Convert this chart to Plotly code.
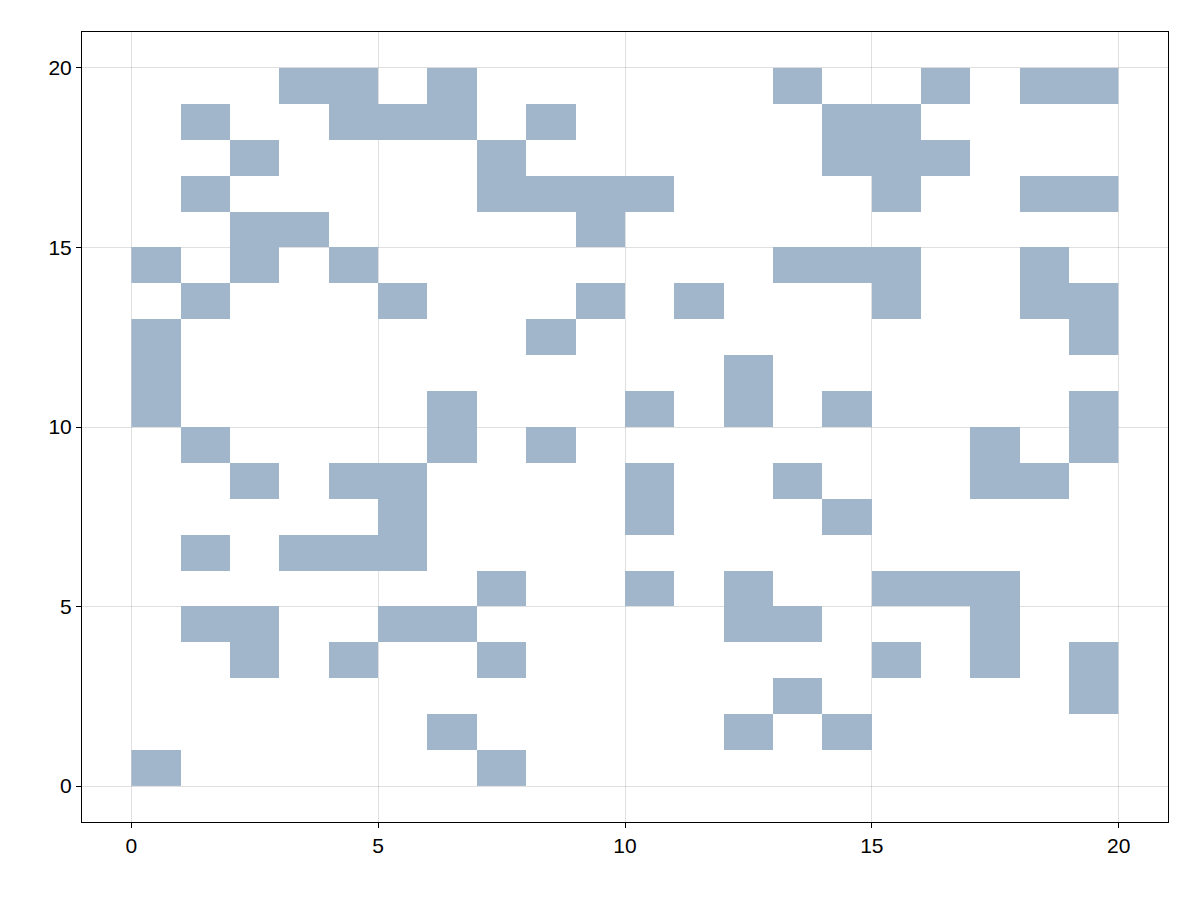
import numpy as np
import plotly.graph_objects as go

# filled cells: row index j (cell spans y in [j, j+1]) -> list of column indices i
ROWS = {
    19: [3, 4, 6, 13, 16, 18, 19],
    18: [1, 4, 5, 6, 8, 14, 15],
    17: [2, 7, 14, 15, 16],
    16: [1, 7, 8, 9, 10, 15, 18, 19],
    15: [2, 3, 9],
    14: [0, 2, 4, 13, 14, 15, 18],
    13: [1, 5, 9, 11, 15, 18, 19],
    12: [0, 8, 19],
    11: [0, 12],
    10: [0, 6, 10, 12, 14, 19],
    9: [1, 6, 8, 17, 19],
    8: [2, 4, 5, 10, 13, 17, 18],
    7: [5, 10, 14],
    6: [1, 3, 4, 5],
    5: [7, 10, 12, 15, 16, 17],
    4: [1, 2, 5, 6, 12, 13, 17],
    3: [2, 4, 7, 15, 17, 19],
    2: [13, 19],
    1: [6, 12, 14],
    0: [0, 7],
}
N = 20
TICKS = [0, 5, 10, 15, 20]

z = np.full((N, N), np.nan)
for j, cols in ROWS.items():
    for i in cols:
        z[j, i] = 1.0

fig = go.Figure(
    go.Heatmap(
        x=np.arange(N) + 0.5,
        y=np.arange(N) + 0.5,
        z=z,
        colorscale=[[0, "#a1b5cb"], [1, "#a1b5cb"]],
        showscale=False,
        hoverongaps=False,
    )
)

axis = dict(
    range=[-1, 21],
    tickvals=TICKS,
    showgrid=True,
    gridcolor="rgba(0,0,0,0.12)",
    gridwidth=1,
    zeroline=False,
    showline=True,
    linecolor="black",
    linewidth=1,
    mirror=True,
    ticks="outside",
    ticklen=5,
    tickcolor="black",
    tickfont=dict(size=21, color="black"),
)

fig.update_layout(
    width=1200,
    height=900,
    template="plotly_white",
    plot_bgcolor="white",
    paper_bgcolor="white",
    font=dict(family="Liberation Sans, Arial, sans-serif"),
    margin=dict(l=74, r=40, t=24, b=86),
    xaxis=axis,
    yaxis=axis,
)
fig.write_html("out.html")
